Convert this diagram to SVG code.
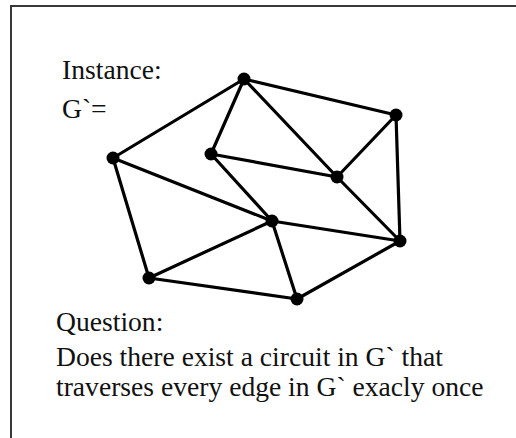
<svg xmlns="http://www.w3.org/2000/svg" width="516" height="438" viewBox="0 0 516 438">
<style>
.t{font-family:"Liberation Serif","Times New Roman",serif;font-size:27.6px;fill:#111}
.e{stroke:#000;stroke-width:3.2;stroke-linecap:round}
.n{fill:#000}
</style>
<rect width="516" height="438" fill="#fff"/>
<rect x="11" y="6" width="520" height="450" fill="none" stroke="#383838" stroke-width="2"/>
<text class="t" x="62" y="79">Instance:</text>
<text class="t" x="62" y="118">G`=</text>
<text class="t" x="56" y="331">Question:</text>
<text class="t" x="56" y="366">Does there exist a circuit in G` that</text>
<text class="t" x="56" y="396">traverses every edge in G` exacly once</text>
<g id="edges">
<line class="e" x1="244" y1="79" x2="113" y2="158"/>
<line class="e" x1="244" y1="79" x2="211" y2="154"/>
<line class="e" x1="244" y1="79" x2="396" y2="115"/>
<line class="e" x1="244" y1="79" x2="337" y2="177"/>
<line class="e" x1="337" y1="177" x2="400" y2="241"/>
<line class="e" x1="396" y1="115" x2="337" y2="177"/>
<line class="e" x1="396" y1="115" x2="400" y2="241"/>
<line class="e" x1="211" y1="154" x2="337" y2="177"/>
<line class="e" x1="211" y1="154" x2="272" y2="221"/>
<line class="e" x1="113" y1="158" x2="272" y2="221"/>
<line class="e" x1="113" y1="158" x2="149" y2="278"/>
<line class="e" x1="272" y1="221" x2="400" y2="241"/>
<line class="e" x1="272" y1="221" x2="149" y2="278"/>
<line class="e" x1="272" y1="221" x2="297" y2="299"/>
<line class="e" x1="149" y1="278" x2="297" y2="299"/>
<line class="e" x1="297" y1="299" x2="400" y2="241"/>
</g>
<g id="nA"><circle class="n" cx="244" cy="79" r="6.5"/></g>
<g id="nB"><circle class="n" cx="396" cy="115" r="6.5"/></g>
<g id="nC"><circle class="n" cx="113" cy="158" r="6.5"/></g>
<g id="nD"><circle class="n" cx="211" cy="154" r="6.5"/></g>
<g id="nE"><circle class="n" cx="337" cy="177" r="6.5"/></g>
<g id="nF"><circle class="n" cx="272" cy="221" r="6.5"/></g>
<g id="nG"><circle class="n" cx="400" cy="241" r="6.5"/></g>
<g id="nH"><circle class="n" cx="149" cy="278" r="6.5"/></g>
<g id="nI"><circle class="n" cx="297" cy="299" r="6.5"/></g>
</svg>
